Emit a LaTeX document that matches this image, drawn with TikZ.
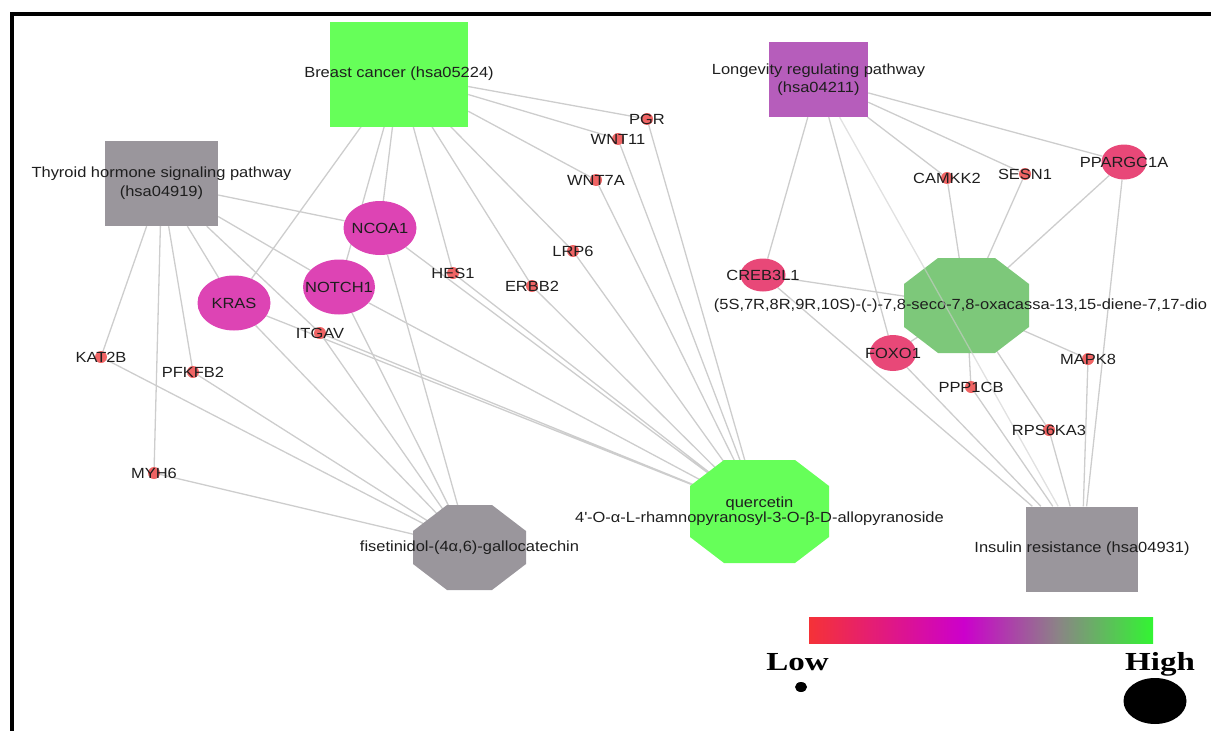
\documentclass[tikz,border=0pt]{standalone}
\usepackage{fontspec}
\newfontfamily\netfont[FakeStretch=1.12]{Liberation Sans}
\newfontfamily\legendfont[FakeStretch=1.27]{Liberation Serif}
\usetikzlibrary{shapes.geometric,backgrounds}

\definecolor{edgegray}{RGB}{205,205,205}
\definecolor{brightgreen}{RGB}{102,255,89}
\definecolor{dullgreen}{RGB}{125,200,122}
\definecolor{pathgray}{RGB}{154,150,156}
\definecolor{pathpurple}{RGB}{182,93,187}
\definecolor{targetmagenta}{RGB}{221,68,180}
\definecolor{targetpink}{RGB}{232,72,120}
\definecolor{dotred}{RGB}{240,100,100}
\definecolor{labeltext}{RGB}{30,30,30}
\definecolor{barred}{RGB}{245,50,55}
\definecolor{barmagenta}{RGB}{204,0,204}
\definecolor{bargray}{RGB}{140,130,135}
\definecolor{bargreen}{RGB}{50,245,50}
\pgfdeclarehorizontalshading{lowhigh}{100bp}{color(0bp)=(barred); color(25bp)=(barred);
  color(47.5bp)=(barmagenta); color(61bp)=(bargray); color(75bp)=(bargreen); color(100bp)=(bargreen)}

\begin{document}
\begin{tikzpicture}[x=1pt,y=-1pt,
  font=\netfont\fontsize{14.7}{17}\selectfont, text=labeltext,
  edge/.style={draw=edgegray, line width=1.3pt},
  pathway/.style={rectangle, inner sep=0pt, label={[align=center]center:#1}},
  target/.style={ellipse, inner sep=0pt, label={center:#1}},
  gene/.style={circle, fill=dotred, minimum size=12pt, inner sep=0pt, label={center:#1}},
  compound/.style={inner sep=0pt, path picture={
    \fill[#1] ([xshift=34pt]path picture bounding box.north west) -- ([xshift=-34pt]path picture bounding box.north east)
      -- ([yshift=-26pt]path picture bounding box.north east) -- ([yshift=26pt]path picture bounding box.south east)
      -- ([xshift=-34pt]path picture bounding box.south east) -- ([xshift=34pt]path picture bounding box.south west)
      -- ([yshift=26pt]path picture bounding box.south west) -- ([yshift=-26pt]path picture bounding box.north west) -- cycle;}},
  legendtext/.style={font=\legendfont\bfseries\fontsize{26}{30}\selectfont, text=black, anchor=base}]
\useasboundingbox (0,0) rectangle (1211,731);
\draw[line width=4pt] (12,740) -- (12,14) -- (1220,14);

\node[pathway={Breast cancer (hsa05224)}, fill=brightgreen, minimum width=138pt, minimum height=105pt] (bc) at (399,74) {};
\node[pathway={Thyroid hormone signaling pathway\\[2pt](hsa04919)}, fill=pathgray, minimum width=113pt, minimum height=85pt] (thy) at (161.5,183.5) {};
\node[pathway={Longevity regulating pathway\\[1pt](hsa04211)}, fill=pathpurple, minimum width=99pt, minimum height=75pt] (lon) at (818.5,79.5) {};
\node[pathway={Insulin resistance (hsa04931)}, fill=pathgray, minimum width=112pt, minimum height=85pt] (ins) at (1082,549) {};

\node[compound=pathgray, minimum width=113pt, minimum height=85pt, label={center:fisetinidol-(4α,6)-gallocatechin}] (fis) at (469.5,547.5) {};
\node[compound=brightgreen, minimum width=139pt, minimum height=103pt,
  label={[align=center]center:quercetin\\[-2pt]4\textquotesingle-O-α-L-rhamnopyranosyl-3-O-β-D-allopyranoside}] (que) at (759.5,511.5) {};
\node[compound=dullgreen, minimum width=125pt, minimum height=95pt,
  label={[xshift=-6pt]center:(5S,7R,8R,9R,10S)-(-)-7,8-seco-7,8-oxacassa-13,15-diene-7,17-dio}] (seco) at (966.5,305.5) {};
\draw[edge, draw opacity=0.6] (lon) -- (ins);

\node[target=NCOA1, fill=targetmagenta, minimum width=73pt, minimum height=54pt] (ncoa1) at (380,228) {};
\node[target=NOTCH1, fill=targetmagenta, minimum width=72pt, minimum height=55pt] (notch1) at (339,287) {};
\node[target=KRAS, fill=targetmagenta, minimum width=73pt, minimum height=55pt] (kras) at (234,303) {};
\node[target=CREB3L1, fill=targetpink, minimum width=45pt, minimum height=33pt] (creb3l1) at (763,275) {};
\node[target=FOXO1, fill=targetpink, minimum width=46pt, minimum height=36pt] (foxo1) at (893,353) {};
\node[target=PPARGC1A, fill=targetpink, minimum width=45pt, minimum height=35pt] (ppargc1a) at (1124,162) {};

\node[gene=PGR] (pgr) at (647,119) {};
\node[gene=WNT11] (wnt11) at (618,139) {};
\node[gene=WNT7A] (wnt7a) at (596,180) {};
\node[gene=LRP6] (lrp6) at (573,251) {};
\node[gene=HES1] (hes1) at (453,273) {};
\node[gene=ERBB2] (erbb2) at (532,286) {};
\node[gene=ITGAV] (itgav) at (320,333) {};
\node[gene=KAT2B] (kat2b) at (101,357) {};
\node[gene=PFKFB2] (pfkfb2) at (193,372) {};
\node[gene=MYH6] (myh6) at (154,473) {};
\node[gene=CAMKK2] (camkk2) at (947,178) {};
\node[gene=SESN1] (sesn1) at (1025,174) {};
\node[gene=PPP1CB] (ppp1cb) at (971,387) {};
\node[gene=MAPK8] (mapk8) at (1088,359) {};
\node[gene=RPS6KA3] (rps6ka3) at (1049,430) {};

\begin{scope}[on background layer]
\draw[edge] (bc) -- (kras) (bc) -- (notch1) (bc) -- (ncoa1) (bc) -- (hes1) (bc) -- (erbb2)
  (bc) -- (lrp6) (bc) -- (wnt7a) (bc) -- (wnt11) (bc) -- (pgr);
\draw[edge] (thy) -- (kat2b) (thy) -- (myh6) (thy) -- (pfkfb2) (thy) -- (kras) (thy) -- (itgav)
  (thy) -- (notch1) (thy) -- (ncoa1);
\draw[edge] (kat2b) -- (fis.center) (pfkfb2) -- (fis.center) (myh6) -- (fis.center) (kras) -- (fis.center)
  (itgav) -- (fis.center) (notch1) -- (fis.center) (ncoa1) -- (fis.center);
\draw[edge] (pgr) -- (que.center) (wnt11) -- (que.center) (wnt7a) -- (que.center) (lrp6) -- (que.center)
  (erbb2) -- (que.center) (hes1) -- (que.center) (ncoa1) -- (que.center) (notch1) -- (que.center)
  (kras) -- (que.center) (itgav) -- (que.center);
\draw[edge] (lon) -- (creb3l1) (lon) -- (foxo1) (lon) -- (camkk2) (lon) -- (sesn1) (lon) -- (ppargc1a);
\draw[edge] (creb3l1) -- (seco.center) (camkk2) -- (seco.center) (sesn1) -- (seco.center)
  (ppargc1a) -- (seco.center) (foxo1) -- (seco.center) (ppp1cb) -- (seco.center)
  (mapk8) -- (seco.center) (rps6ka3) -- (seco.center);
\draw[edge] (creb3l1) -- (ins) (foxo1) -- (ins) (ppp1cb) -- (ins) (rps6ka3) -- (ins)
  (mapk8) -- (ins) (ppargc1a) -- (ins);
\end{scope}

\node[shading=lowhigh, minimum width=344pt, minimum height=26pt, inner sep=0pt] (scalebar) at (981,630) {};
\node[legendtext] (low) at (797.5,670) {Low};
\node[legendtext] (high) at (1160,670) {High};
\node[ellipse, fill=black, minimum width=12pt, minimum height=10pt, inner sep=0pt] (lowdot) at (801,687) {};
\node[ellipse, fill=black, minimum width=63pt, minimum height=46pt, inner sep=0pt] (highdot) at (1155,701) {};
\end{tikzpicture}
\end{document}
